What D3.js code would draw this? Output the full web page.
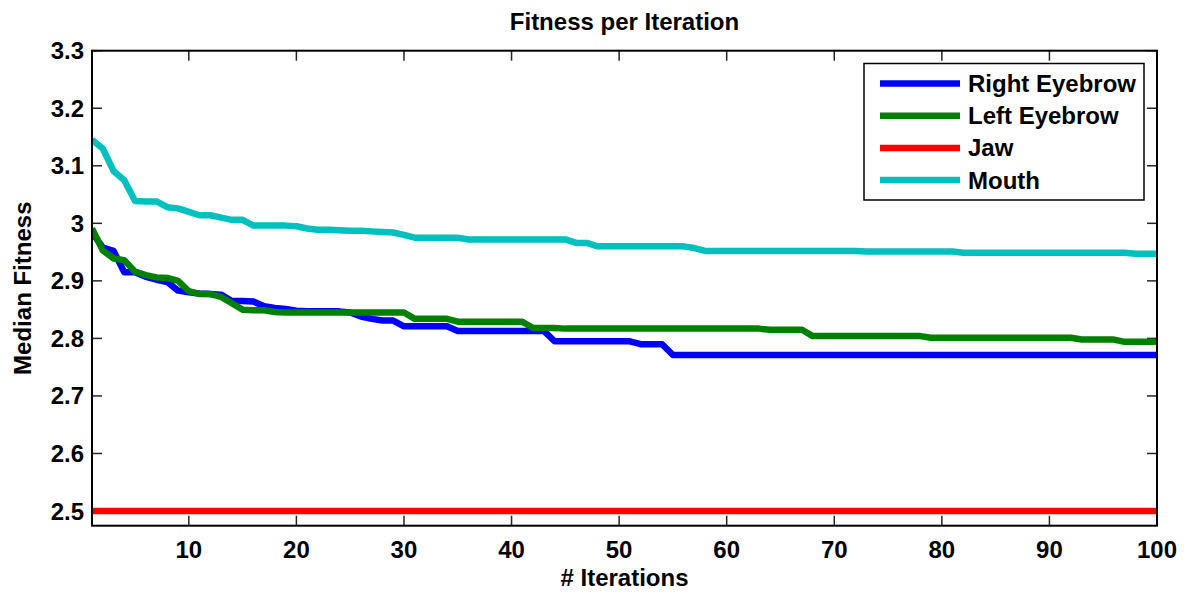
<!DOCTYPE html>
<html><head><meta charset="utf-8">
<script src="https://cdn.jsdelivr.net/npm/d3@7"></script>
<style>body{margin:0;background:#fff}svg{display:block}text{font-family:"Liberation Sans",Arial,Helvetica,sans-serif}</style>
</head><body><svg id="c" width="1189" height="592"></svg>
<script>
const iterations = d3.range(1, 101);
const seriesNames = ["Right Eyebrow", "Left Eyebrow", "Jaw", "Mouth"];
const seriesColors = ["#0000ff", "#008000", "#ff0000", "#00bfbf"];
const xTicks = [10,20,30,40,50,60,70,80,90,100];
const yTicks = [2.5,2.6,2.7,2.8,2.9,3.0,3.1,3.2,3.3];

const rightEyebrow = [2.984,2.958,2.952,2.915,2.915,2.907,2.902,2.898,2.883,2.880,
2.878,2.877,2.876,2.865,2.865,2.864,2.856,2.853,2.851,2.848,
2.847,2.847,2.847,2.847,2.845,2.838,2.834,2.831,2.831,2.821,
2.821,2.821,2.821,2.821,2.813,2.813,2.813,2.813,2.813,2.813,
2.813,2.813,2.813,2.795,2.795,2.795,2.795,2.795,2.795,2.795,
2.795,2.790,2.790,2.790,2.771,2.771,2.771,2.771,2.771,2.771,
2.771,2.771,2.771,2.771,2.771,2.771,2.771,2.771,2.771,2.771,
2.771,2.771,2.771,2.771,2.771,2.771,2.771,2.771,2.771,2.771,
2.771,2.771,2.771,2.771,2.771,2.771,2.771,2.771,2.771,2.771,
2.771,2.771,2.771,2.771,2.771,2.771,2.771,2.771,2.771,2.771];

const leftEyebrow = [2.991,2.953,2.939,2.936,2.916,2.910,2.906,2.905,2.900,2.882,
2.877,2.877,2.872,2.861,2.850,2.849,2.849,2.846,2.845,2.845,
2.845,2.845,2.845,2.845,2.845,2.845,2.845,2.845,2.845,2.845,
2.834,2.834,2.834,2.834,2.829,2.829,2.829,2.829,2.829,2.829,
2.829,2.818,2.818,2.818,2.817,2.817,2.817,2.817,2.817,2.817,
2.817,2.817,2.817,2.817,2.817,2.817,2.817,2.817,2.817,2.817,
2.817,2.817,2.817,2.815,2.815,2.815,2.815,2.804,2.804,2.804,
2.804,2.804,2.804,2.804,2.804,2.804,2.804,2.804,2.801,2.801,
2.801,2.801,2.801,2.801,2.801,2.801,2.801,2.801,2.801,2.801,
2.801,2.801,2.798,2.798,2.798,2.798,2.794,2.794,2.794,2.794];

const jaw = [2.5,2.5,2.5,2.5,2.5,2.5,2.5,2.5,2.5,2.5,
2.5,2.5,2.5,2.5,2.5,2.5,2.5,2.5,2.5,2.5,
2.5,2.5,2.5,2.5,2.5,2.5,2.5,2.5,2.5,2.5,
2.5,2.5,2.5,2.5,2.5,2.5,2.5,2.5,2.5,2.5,
2.5,2.5,2.5,2.5,2.5,2.5,2.5,2.5,2.5,2.5,
2.5,2.5,2.5,2.5,2.5,2.5,2.5,2.5,2.5,2.5,
2.5,2.5,2.5,2.5,2.5,2.5,2.5,2.5,2.5,2.5,
2.5,2.5,2.5,2.5,2.5,2.5,2.5,2.5,2.5,2.5,
2.5,2.5,2.5,2.5,2.5,2.5,2.5,2.5,2.5,2.5,
2.5,2.5,2.5,2.5,2.5,2.5,2.5,2.5,2.5,2.5];

const mouth = [3.145,3.130,3.091,3.075,3.039,3.038,3.038,3.028,3.026,3.020,
3.014,3.014,3.010,3.006,3.006,2.996,2.996,2.996,2.996,2.995,
2.991,2.989,2.989,2.988,2.987,2.987,2.986,2.985,2.984,2.980,
2.975,2.975,2.975,2.975,2.975,2.972,2.972,2.972,2.972,2.972,
2.972,2.972,2.972,2.972,2.972,2.966,2.966,2.960,2.960,2.960,
2.960,2.960,2.960,2.960,2.960,2.960,2.957,2.952,2.952,2.952,
2.952,2.952,2.952,2.952,2.952,2.952,2.952,2.952,2.952,2.952,
2.952,2.952,2.951,2.951,2.951,2.951,2.951,2.951,2.951,2.951,
2.951,2.949,2.949,2.949,2.949,2.949,2.949,2.949,2.949,2.949,
2.949,2.949,2.949,2.949,2.949,2.949,2.949,2.947,2.947,2.947];

const seriesValues = [rightEyebrow, leftEyebrow, jaw, mouth];

const L = 92, R = 1157, T = 50.7, B = 525.7;
const svg = d3.select("#c");
const x = d3.scaleLinear().domain([1, 100]).range([L, R]);
const y = d3.scaleLinear().domain([2.4745, 3.3]).range([B, T]);

svg.append("defs").append("clipPath").attr("id","clip")
  .append("rect").attr("x",L).attr("y",T).attr("width",R-L).attr("height",B-T);

const tickLen = 10;
const tg = svg.append("g").attr("stroke","#262626").attr("stroke-width",1.5);
xTicks.forEach(t => {
  tg.append("line").attr("x1",x(t)).attr("x2",x(t)).attr("y1",B).attr("y2",B-tickLen);
  tg.append("line").attr("x1",x(t)).attr("x2",x(t)).attr("y1",T).attr("y2",T+tickLen);
});
yTicks.forEach(t => {
  tg.append("line").attr("x1",L).attr("x2",L+tickLen).attr("y1",y(t)).attr("y2",y(t));
  tg.append("line").attr("x1",R).attr("x2",R-tickLen).attr("y1",y(t)).attr("y2",y(t));
});

const line = d3.line().x((d,i)=>x(iterations[i])).y(d=>y(d));
const lg = svg.append("g").attr("clip-path","url(#clip)");
seriesValues.forEach((vals, k) => {
  lg.append("path").attr("d", line(vals)).attr("fill","none")
    .attr("stroke", seriesColors[k]).attr("stroke-width", 6.5)
    .attr("stroke-linejoin","round");
});

svg.append("rect").attr("x",L).attr("y",T).attr("width",R-L).attr("height",B-T)
  .attr("fill","none").attr("stroke","#000").attr("stroke-width",2);

const fs = 24;
svg.append("g").selectAll("text").data(xTicks).join("text")
  .attr("x", d=>x(d)).attr("y", 558).attr("text-anchor","middle")
  .attr("font-size", fs).attr("font-weight","bold").text(d=>d);
svg.append("g").selectAll("text").data(yTicks).join("text")
  .attr("x", 84).attr("y", d=>y(d)+8.5).attr("text-anchor","end")
  .attr("font-size", fs).attr("font-weight","bold").text(d=>d3.format("")(d));

svg.append("text").attr("x",(L+R)/2).attr("y",30).attr("text-anchor","middle")
  .attr("font-size",24).attr("font-weight","bold").text("Fitness per Iteration");
svg.append("text").attr("x",(L+R)/2).attr("y",586).attr("text-anchor","middle")
  .attr("font-size",fs).attr("font-weight","bold").text("# Iterations");
svg.append("text").attr("transform",`translate(31,${(T+B)/2}) rotate(-90)`)
  .attr("text-anchor","middle").attr("font-size",fs).attr("font-weight","bold").text("Median Fitness");

const lgd = svg.append("g");
lgd.append("rect").attr("x",864).attr("y",63.5).attr("width",280).attr("height",136.5)
  .attr("fill","#fff").attr("stroke","#000").attr("stroke-width",1.5);
seriesNames.forEach((n,k) => {
  const yy = 83.5 + k*32.2;
  lgd.append("line").attr("x1",880).attr("x2",960).attr("y1",yy).attr("y2",yy)
    .attr("stroke",seriesColors[k]).attr("stroke-width",6.5);
  lgd.append("text").attr("x",968).attr("y",yy+8.5).attr("font-size",24)
    .attr("font-weight","bold").text(n);
});
</script></body></html>
